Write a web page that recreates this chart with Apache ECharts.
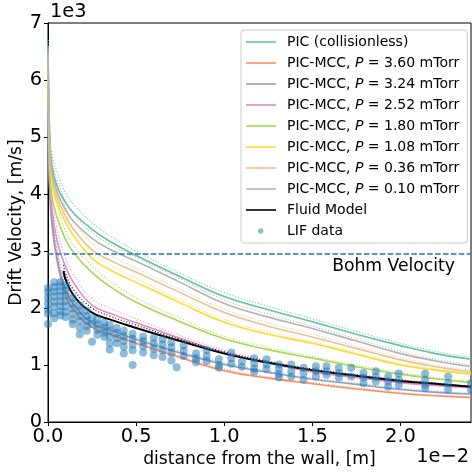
<!DOCTYPE html>
<html>
<head>
<meta charset="utf-8">
<script src="https://cdn.jsdelivr.net/npm/echarts@6/dist/echarts.min.js"></script>
<style>
  html, body { margin: 0; padding: 0; background: #fff; }
  #chart { width: 472px; height: 474px; }
</style>
</head>
<body>
<div id="chart"></div>
<script>
// distance from the wall, in units of 1e-2 m
const xGrid = [0, 0.005, 0.01, 0.02, 0.05, 0.1, 0.15, 0.25, 0.35, 0.5, 0.75, 1.0, 1.25, 1.5, 1.75, 2.0, 2.2, 2.4];

// drift velocity, in units of 1e3 m/s (solid: fitted profile, dotted: raw particle data)
const picFit    = [6.6, 5.6, 5.0, 4.55, 4.15, 3.85, 3.65, 3.38, 3.17, 2.92, 2.55, 2.2, 1.97, 1.76, 1.54, 1.34, 1.2, 1.1];
const picRaw    = [6.7, 5.8, 5.2, 4.75, 4.4, 4.02, 3.8, 3.5, 3.27, 3.0, 2.61, 2.27, 2.03, 1.81, 1.59, 1.38, 1.24, 1.13];
const p360Fit   = [5.5, 4.6, 4.05, 3.55, 2.85, 2.23, 1.95, 1.66, 1.54, 1.38, 1.13, 0.9, 0.77, 0.67, 0.58, 0.5, 0.46, 0.43];
const p360Raw   = [5.6, 4.75, 4.2, 3.7, 3.0, 2.33, 2.03, 1.72, 1.59, 1.42, 1.16, 0.93, 0.79, 0.69, 0.6, 0.52, 0.47, 0.44];
const p324Fit   = [5.6, 4.7, 4.1, 3.6, 2.9, 2.32, 2.05, 1.74, 1.62, 1.45, 1.21, 1.01, 0.87, 0.75, 0.66, 0.57, 0.52, 0.49];
const p324Raw   = [5.7, 4.85, 4.25, 3.75, 3.05, 2.42, 2.13, 1.8, 1.67, 1.49, 1.24, 1.04, 0.89, 0.77, 0.68, 0.59, 0.54, 0.5];
const p252Fit   = [5.8, 4.9, 4.3, 3.8, 3.2, 2.72, 2.42, 2.05, 1.91, 1.74, 1.47, 1.22, 1.04, 0.88, 0.78, 0.69, 0.64, 0.6];
const p252Raw   = [5.9, 5.1, 4.5, 4.0, 3.4, 2.88, 2.56, 2.16, 2.0, 1.81, 1.52, 1.26, 1.07, 0.91, 0.8, 0.71, 0.66, 0.62];
const p180Fit   = [6.0, 5.1, 4.5, 4.0, 3.6, 3.2, 2.95, 2.62, 2.38, 2.1, 1.76, 1.46, 1.27, 1.12, 0.97, 0.84, 0.76, 0.69];
const p180Raw   = [6.1, 5.3, 4.7, 4.2, 3.8, 3.35, 3.08, 2.74, 2.48, 2.18, 1.82, 1.5, 1.31, 1.15, 1.0, 0.87, 0.78, 0.71];
const p108Fit   = [6.3, 5.3, 4.7, 4.25, 3.85, 3.5, 3.25, 2.87, 2.67, 2.45, 2.09, 1.75, 1.54, 1.38, 1.19, 1.0, 0.91, 0.84];
const p108Raw   = [6.4, 5.5, 4.9, 4.45, 4.05, 3.66, 3.39, 2.98, 2.76, 2.52, 2.14, 1.8, 1.58, 1.41, 1.22, 1.03, 0.93, 0.86];
const p036Fit   = [6.4, 5.4, 4.8, 4.35, 3.95, 3.6, 3.36, 3.02, 2.84, 2.63, 2.27, 1.92, 1.68, 1.49, 1.29, 1.09, 0.97, 0.88];
const p036Raw   = [6.5, 5.6, 5.0, 4.55, 4.15, 3.77, 3.5, 3.13, 2.93, 2.7, 2.33, 1.98, 1.74, 1.54, 1.33, 1.13, 1.0, 0.91];
const p010Fit   = [6.5, 5.5, 4.9, 4.45, 4.05, 3.72, 3.5, 3.22, 3.03, 2.82, 2.45, 2.08, 1.84, 1.64, 1.42, 1.2, 1.07, 0.97];
const p010Raw   = [6.6, 5.7, 5.1, 4.65, 4.25, 3.88, 3.63, 3.32, 3.12, 2.89, 2.51, 2.14, 1.89, 1.68, 1.46, 1.24, 1.1, 1.0];

// fluid model
const fluidX    = [0.088, 0.1, 0.15, 0.25, 0.35, 0.5, 0.75, 1.0, 1.25, 1.5, 1.75, 2.0, 2.2, 2.4];
const fluidV    = [2.65, 2.5, 2.2, 1.92, 1.8, 1.65, 1.42, 1.2, 1.04, 0.91, 0.81, 0.72, 0.67, 0.62];
const fluidAlt  = [2.75, 2.6, 2.3, 2.0, 1.86, 1.7, 1.45, 1.23, 1.06, 0.93, 0.83, 0.74, 0.68, 0.63];

// LIF measurements: [distance, velocity]
const lifData = [
  [0.00, 2.35], [0.00, 2.28], [0.00, 2.18], [0.00, 2.08], [0.00, 1.98], [0.00, 1.90], [0.00, 1.72],
  [0.035, 2.45], [0.035, 2.37], [0.035, 2.29], [0.035, 2.20], [0.035, 2.11], [0.035, 2.02], [0.035, 1.91], [0.035, 1.82],
  [0.07, 2.45], [0.07, 2.38], [0.07, 2.30], [0.07, 2.21], [0.07, 2.12], [0.07, 2.03], [0.07, 1.94], [0.07, 1.87],
  [0.10, 2.40], [0.10, 2.31], [0.10, 2.22], [0.10, 2.12], [0.10, 2.03], [0.10, 1.93], [0.10, 1.84],
  [0.14, 2.18], [0.14, 2.08], [0.14, 1.99], [0.14, 1.90], [0.14, 1.80], [0.14, 1.72],
  [0.18, 2.05], [0.18, 1.95], [0.18, 1.86], [0.18, 1.77], [0.18, 1.66], [0.18, 1.54],
  [0.22, 1.95], [0.22, 1.86], [0.22, 1.77], [0.22, 1.69], [0.22, 1.60],
  [0.25, 1.82], [0.25, 1.72], [0.25, 1.41],
  [0.28, 1.80], [0.28, 1.71], [0.28, 1.62], [0.28, 1.53],
  [0.32, 1.74], [0.32, 1.66], [0.32, 1.57], [0.32, 1.49],
  [0.35, 1.70], [0.35, 1.60], [0.35, 1.50], [0.35, 1.38], [0.35, 1.27],
  [0.39, 1.65], [0.39, 1.56], [0.39, 1.47], [0.39, 1.38],
  [0.43, 1.60], [0.43, 1.51], [0.43, 1.42], [0.43, 1.32], [0.43, 1.20],
  [0.48, 1.55], [0.48, 1.46], [0.48, 1.36], [0.48, 1.26], [0.48, 1.00],
  [0.54, 1.50], [0.54, 1.42], [0.54, 1.33], [0.54, 1.22],
  [0.60, 1.48], [0.60, 1.38], [0.60, 1.28], [0.60, 1.17],
  [0.65, 1.45], [0.65, 1.36], [0.65, 1.26], [0.65, 1.14],
  [0.70, 1.40], [0.70, 1.31], [0.70, 1.21], [0.70, 1.08],
  [0.73, 0.96],
  [0.77, 1.34], [0.77, 1.25], [0.77, 1.16],
  [0.84, 1.20], [0.84, 1.12], [0.84, 1.05],
  [0.90, 1.26], [0.90, 1.16], [0.90, 1.07],
  [0.97, 1.10], [0.97, 1.00], [0.97, 0.95],
  [1.04, 1.22], [1.04, 1.12], [1.04, 1.02],
  [1.10, 1.06], [1.10, 0.97],
  [1.17, 1.12], [1.17, 1.03], [1.17, 0.94], [1.17, 0.88],
  [1.24, 1.10], [1.24, 1.01], [1.24, 0.93],
  [1.31, 1.01], [1.31, 0.93], [1.31, 0.84], [1.31, 0.78],
  [1.38, 1.01], [1.38, 0.89], [1.38, 0.80],
  [1.45, 0.95], [1.45, 0.86], [1.45, 0.74],
  [1.52, 0.98], [1.52, 0.89], [1.52, 0.80],
  [1.58, 0.98], [1.58, 0.89], [1.58, 0.83],
  [1.65, 0.95], [1.65, 0.86], [1.65, 0.78],
  [1.72, 0.95], [1.72, 0.80],
  [1.79, 0.86], [1.79, 0.78], [1.79, 0.68],
  [1.86, 0.89], [1.86, 0.80], [1.86, 0.71],
  [1.93, 0.80], [1.93, 0.71], [1.93, 0.62],
  [1.99, 0.85], [1.99, 0.74], [1.99, 0.65],
  [2.14, 0.85], [2.14, 0.74], [2.14, 0.65], [2.14, 0.59],
  [2.27, 0.80], [2.27, 0.68], [2.27, 0.57],
  [2.40, 0.68], [2.40, 0.56]
];

const bohmVelocity = 2.95;
const xTicks = [0, 0.5, 1.0, 1.5, 2.0];

const profiles = [
  { name: 'PIC (collisionless)',      color: '#66c2a5', fit: picFit,  raw: picRaw },
  { name: 'PIC-MCC, P = 3.60 mTorr',  color: '#fc8d62', fit: p360Fit, raw: p360Raw },
  { name: 'PIC-MCC, P = 3.24 mTorr',  color: '#8da0cb', fit: p324Fit, raw: p324Raw },
  { name: 'PIC-MCC, P = 2.52 mTorr',  color: '#e78ac3', fit: p252Fit, raw: p252Raw },
  { name: 'PIC-MCC, P = 1.80 mTorr',  color: '#a6d854', fit: p180Fit, raw: p180Raw },
  { name: 'PIC-MCC, P = 1.08 mTorr',  color: '#ffd92f', fit: p108Fit, raw: p108Raw },
  { name: 'PIC-MCC, P = 0.36 mTorr',  color: '#e5c494', fit: p036Fit, raw: p036Raw },
  { name: 'PIC-MCC, P = 0.10 mTorr',  color: '#b3b3b3', fit: p010Fit, raw: p010Raw }
];

const zip = (xa, ya) => xa.map((x, i) => [x, ya[i]]);
const FONT = 'DejaVu Sans';
const SMOOTH = 0.45;

const series = [];
profiles.forEach(p => {
  series.push({
    name: p.name, type: 'line', data: zip(xGrid, p.fit),
    symbol: 'none', smooth: SMOOTH,
    lineStyle: { color: p.color, width: 1.6 }, itemStyle: { color: p.color },
    z: 3
  });
  series.push({
    name: p.name, type: 'line', data: zip(xGrid, p.raw),
    symbol: 'none', smooth: SMOOTH,
    lineStyle: { color: p.color, width: 1.1, type: [1, 2] }, itemStyle: { color: p.color },
    z: 2
  });
});
series.push({
  name: 'Fluid Model', type: 'line', data: zip(fluidX, fluidV),
  symbol: 'none', smooth: SMOOTH,
  lineStyle: { color: '#000', width: 2 }, itemStyle: { color: '#000' }, z: 4
});
series.push({
  name: 'Fluid Model', type: 'line', data: zip(fluidX, fluidAlt),
  symbol: 'none', smooth: SMOOTH,
  lineStyle: { color: '#000', width: 1.1, type: [1, 2] }, itemStyle: { color: '#000' }, z: 4
});
series.push({
  name: 'LIF data', type: 'scatter', data: lifData,
  symbol: 'circle', symbolSize: 8,
  itemStyle: { color: '#1f77b4', opacity: 0.5 }, z: 5,
  markLine: {
    silent: true, symbol: 'none', animation: false,
    lineStyle: { color: '#1f77b4', width: 1.5, type: [5.5, 2.4] },
    label: {
      show: true, position: 'insideEndBottom', formatter: 'Bohm Velocity',
      fontFamily: FONT, fontSize: 17.2, color: '#000', distance: [16, 4]
    },
    data: [{ yAxis: bohmVelocity }]
  }
});

// legend glyphs: a short horizontal stroke for curves, a small dot for measurements
const LINE_ICON = 'path://M0,0M36,14M0,6.2L30,6.2L30,7.8L0,7.8Z';
const DOT_ICON = 'path://M0,0M36,14M12,7a2.7,2.7 0 1,0 5.4,0a2.7,2.7 0 1,0 -5.4,0z';
const legendData = profiles.map(p => ({ name: p.name, icon: LINE_ICON }))
  .concat([{ name: 'Fluid Model', icon: LINE_ICON }, { name: 'LIF data', icon: DOT_ICON }]);

const chart = echarts.init(document.getElementById('chart'), null, { renderer: 'canvas' });
chart.setOption({
  animation: false,
  backgroundColor: '#fff',
  grid: {
    left: 48, right: 1, top: 23, bottom: 52, outerBoundsMode: 'none', containLabel: false,
    show: true, borderColor: '#000', borderWidth: 1, backgroundColor: 'transparent'
  },
  xAxis: {
    type: 'value', min: 0, max: 2.4,
    name: 'distance from the wall, [m]', nameLocation: 'middle', nameGap: 29, nameMoveOverlap: false,
    nameTextStyle: { fontFamily: FONT, fontSize: 17.2, color: '#000' },
    axisLine: { show: true, onZero: false, lineStyle: { color: '#000', width: 1 } },
    axisTick: { show: true, length: 4, lineStyle: { color: '#000' }, customValues: xTicks },
    axisLabel: { fontFamily: FONT, fontSize: 19.4, color: '#000', margin: 5, customValues: xTicks,
                 formatter: v => v.toFixed(1) },
    splitLine: { show: false }
  },
  yAxis: {
    type: 'value', min: 0, max: 7, interval: 1,
    name: 'Drift Velocity, [m/s]', nameLocation: 'middle', nameGap: 23, nameMoveOverlap: false,
    nameTextStyle: { fontFamily: FONT, fontSize: 17.2, color: '#000' },
    axisLine: { show: true, onZero: false, lineStyle: { color: '#000', width: 1 } },
    axisTick: { show: true, length: 4, lineStyle: { color: '#000' } },
    axisLabel: { fontFamily: FONT, fontSize: 19.4, color: '#000', margin: 6 },
    splitLine: { show: false }
  },
  legend: {
    orient: 'vertical', left: 241, top: 30,
    data: legendData,
    itemWidth: 36, itemHeight: 14, itemGap: 7,
    padding: [5, 8, 5, 5],
    backgroundColor: 'rgba(255,255,255,0.8)', borderColor: '#cccccc', borderWidth: 1, borderRadius: 3,
    selectedMode: false,
    textStyle: {
      fontFamily: FONT, fontSize: 14, color: '#000', width: 170, overflow: 'none',
      rich: {
        n: { fontFamily: FONT, fontSize: 14, color: '#000', lineHeight: 16 },
        i: { fontFamily: FONT, fontSize: 14, color: '#000', fontStyle: 'italic', lineHeight: 16 }
      }
    },
    formatter: name => {
      const k = name.indexOf('P = ');
      if (k < 0) return '{n|' + name + '}';
      return '{n|' + name.slice(0, k) + '}{i|P}{n|' + name.slice(k + 1) + '}';
    }
  },
  graphic: [
    { type: 'text', left: 50, top: 2, style: { text: '1e3', font: '19.4px "DejaVu Sans"', fill: '#000' } },
    { type: 'text', right: 3, top: 447, style: { text: '1e\u22122', font: '19.4px "DejaVu Sans"', fill: '#000' } }
  ],
  series: series
});
</script>
</body>
</html>
